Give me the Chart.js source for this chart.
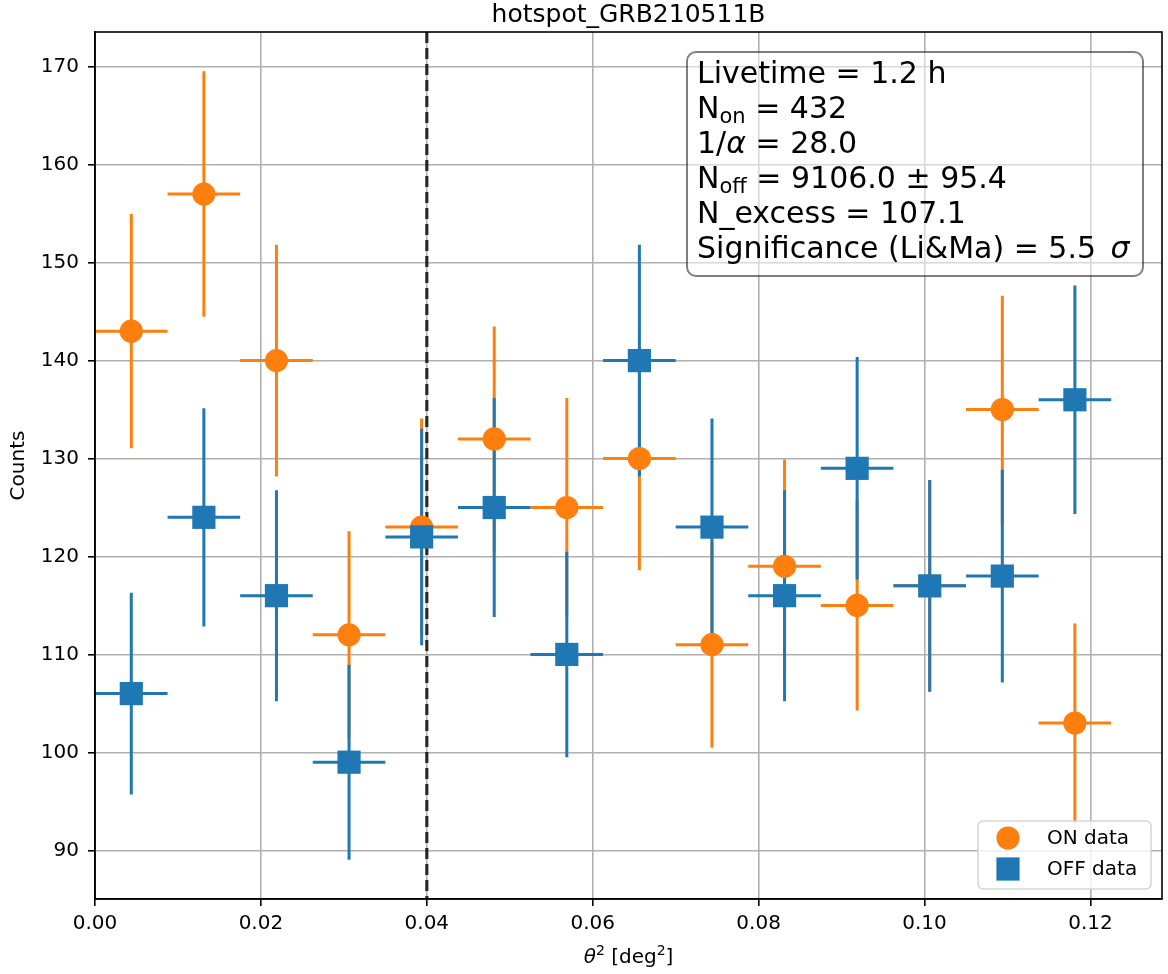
<!DOCTYPE html>
<html>
<head>
<meta charset="utf-8">
<script src="https://cdn.jsdelivr.net/npm/chart.js@4.4.1/dist/chart.umd.min.js"></script>
<style>
  html, body { margin: 0; padding: 0; background: #fff; }
  canvas { display: block; }
</style>
</head>
<body>
<canvas id="thetaChart" width="1168" height="974"></canvas>
<script>
// theta^2 bins (centres) and half width, deg^2
const thetaSq = [0.004375, 0.013125, 0.021875, 0.030625, 0.039375, 0.048125, 0.056875,
                 0.065625, 0.074375, 0.083125, 0.091875, 0.100625, 0.109375, 0.118125];
const binHalf = 0.004375;

const onCounts = [143, 157, 140, 112, 123, 132, 125, 130, 111, 119, 115, 117, 135, 103];
const onErr    = [11.96, 12.53, 11.83, 10.58, 11.09, 11.49, 11.18, 11.40, 10.54, 10.91, 10.72, 10.82, 11.62, 10.15];

const offCounts = [106, 124, 116, 99, 122, 125, 110, 140, 123, 116, 129, 117, 118, 136];
const offErr    = [10.30, 11.14, 10.77, 9.95, 11.05, 11.18, 10.49, 11.83, 11.09, 10.77, 11.36, 10.82, 10.86, 11.66];

const thetaCut = 0.04;
const xTicks = [0, 0.02, 0.04, 0.06, 0.08, 0.10, 0.12];
const yTicks = [90, 100, 110, 120, 130, 140, 150, 160, 170];

// [text, kind, extra gap before]
const statLines = [
    [['Livetime = 1.2 h', '', 0]],
    [['N', '', 0], ['on', 'sub', 0], [' = 432', '', 0]],
    [['1/', '', 0], ['α', 'it', 0], [' = 28.0', '', 0]],
    [['N', '', 0], ['off', 'sub', 0], [' = 9106.0 ± 95.4', '', 0]],
    [['N_excess = 107.1', '', 0]],
    [['Significance (Li&Ma) = 5.5 ', '', 0], ['σ', 'it', 5]]
];

const ORANGE = '#ff7f0e';
const BLUE = '#1f77b4';
const FONT = "'DejaVu Sans', sans-serif";

Chart.defaults.color = '#000';
Chart.defaults.font.family = FONT;

const toPoints = (ys) => thetaSq.map((x, i) => ({x: x, y: ys[i]}));

// dashed cut line + error bars go under every marker
const errorBars = {
    id: 'errorBars',
    beforeDatasetsDraw(chart) {
        const ctx = chart.ctx;
        const xs = chart.scales.x;
        const ys = chart.scales.y;
        const area = chart.chartArea;
        ctx.save();
        ctx.beginPath();
        ctx.rect(area.left, area.top, area.right - area.left, area.bottom - area.top);
        ctx.clip();

        ctx.strokeStyle = 'rgba(0,0,0,0.8)';
        ctx.lineWidth = 3.2;
        ctx.setLineDash([11, 5]);
        const cx = xs.getPixelForValue(thetaCut);
        ctx.beginPath();
        ctx.moveTo(cx, area.top);
        ctx.lineTo(cx, area.bottom);
        ctx.stroke();
        ctx.setLineDash([]);

        const series = [[onCounts, onErr, ORANGE], [offCounts, offErr, BLUE]];
        ctx.lineWidth = 3;
        for (const [vals, errs, col] of series) {
            ctx.strokeStyle = col;
            for (let i = 0; i < thetaSq.length; i++) {
                const px = xs.getPixelForValue(thetaSq[i]);
                const py = ys.getPixelForValue(vals[i]);
                ctx.beginPath();
                ctx.moveTo(px, ys.getPixelForValue(vals[i] - errs[i]));
                ctx.lineTo(px, ys.getPixelForValue(vals[i] + errs[i]));
                ctx.moveTo(xs.getPixelForValue(thetaSq[i] - binHalf), py);
                ctx.lineTo(xs.getPixelForValue(thetaSq[i] + binHalf), py);
                ctx.stroke();
            }
        }
        ctx.restore();
    }
};

function roundRect(ctx, x, y, w, h, r) {
    ctx.beginPath();
    ctx.moveTo(x + r, y);
    ctx.arcTo(x + w, y, x + w, y + h, r);
    ctx.arcTo(x + w, y + h, x, y + h, r);
    ctx.arcTo(x, y + h, x, y, r);
    ctx.arcTo(x, y, x + w, y, r);
    ctx.closePath();
}

const decorations = {
    id: 'decorations',
    afterDatasetsDraw(chart) {
        const ctx = chart.ctx;
        const area = chart.chartArea;
        ctx.save();

        // frame
        ctx.strokeStyle = '#000';
        ctx.lineWidth = 1.6;
        ctx.strokeRect(area.left, area.top, area.right - area.left, area.bottom - area.top);

        // stats box
        roundRect(ctx, 687, 52, 456, 224, 9);
        ctx.fillStyle = 'rgba(255,255,255,0.5)';
        ctx.fill();
        ctx.strokeStyle = 'rgba(0,0,0,0.5)';
        ctx.lineWidth = 2;
        ctx.stroke();

        ctx.fillStyle = '#000';
        ctx.textBaseline = 'alphabetic';
        ctx.textAlign = 'left';
        statLines.forEach((line, li) => {
            let x = 697;
            const base = 83 + li * 35;
            for (const [txt, kind, gap] of line) {
                x += gap;
                if (kind === 'sub') {
                    ctx.font = '21px ' + FONT;
                    ctx.fillText(txt, x, base + 5);
                } else if (kind === 'it') {
                    ctx.font = 'italic 30px ' + FONT;
                    ctx.fillText(txt, x, base);
                } else {
                    ctx.font = '30px ' + FONT;
                    ctx.fillText(txt, x, base);
                }
                x += ctx.measureText(txt).width;
            }
        });

        // legend
        roundRect(ctx, 978, 821, 173, 68, 5);
        ctx.fillStyle = 'rgba(255,255,255,0.8)';
        ctx.fill();
        ctx.strokeStyle = 'rgba(204,204,204,0.8)';
        ctx.lineWidth = 1.6;
        ctx.stroke();
        const ds = chart.data.datasets;
        ctx.fillStyle = ds[0].backgroundColor;
        ctx.beginPath();
        ctx.arc(1008, 838, 11.6, 0, Math.PI * 2);
        ctx.fill();
        ctx.fillStyle = ds[1].backgroundColor;
        ctx.fillRect(1008 - 11.6, 869 - 11.6, 23.2, 23.2);
        ctx.fillStyle = '#000';
        ctx.font = '20px ' + FONT;
        ctx.textBaseline = 'middle';
        ctx.fillText(ds[0].label, 1047, 839);
        ctx.fillText(ds[1].label, 1047, 870);

        // x axis label with math style
        const parts = [['θ', 'italic 20px ', 0], ['2', '14px ', -8], [' [deg', '20px ', 0], ['2', '14px ', -8], [']', '20px ', 0]];
        let total = 0;
        for (const [t, f] of parts) { ctx.font = f + FONT; total += ctx.measureText(t).width; }
        let x = (area.left + area.right) / 2 - total / 2;
        ctx.textBaseline = 'alphabetic';
        for (const [t, f, dy] of parts) {
            ctx.font = f + FONT;
            ctx.fillText(t, x, 963 + dy);
            x += ctx.measureText(t).width;
        }
        ctx.restore();
    }
};

new Chart(document.getElementById('thetaChart'), {
    type: 'scatter',
    data: {
        datasets: [
            {
                label: 'ON data',
                data: toPoints(onCounts),
                pointStyle: 'circle',
                radius: 11.6,
                backgroundColor: ORANGE,
                borderColor: ORANGE,
                borderWidth: 0,
                order: 1
            },
            {
                label: 'OFF data',
                data: toPoints(offCounts),
                pointStyle: 'rect',
                radius: 16.4,
                backgroundColor: BLUE,
                borderColor: BLUE,
                borderWidth: 0,
                order: 0
            }
        ]
    },
    options: {
        responsive: false,
        animation: false,
        events: [],
        layout: { autoPadding: false, padding: { left: 0, right: 6, top: 0, bottom: 0 } },
        plugins: {
            legend: { display: false },
            tooltip: { enabled: false },
            title: {
                display: true,
                text: 'hotspot_GRB210511B',
                fullSize: false,
                color: '#000',
                font: { size: 25, weight: 'normal', lineHeight: 0.82 },
                padding: { top: 5, bottom: 6.5 }
            }
        },
        scales: {
            x: {
                type: 'linear',
                min: 0,
                max: 0.128625,
                afterFit(scale) {
                    scale.height = 75;
                    scale.paddingLeft = 0;
                    scale.paddingRight = 0;
                },
                afterBuildTicks(scale) { scale.ticks = xTicks.map(v => ({value: v})); },
                ticks: {
                    font: { size: 20 },
                    padding: 6,
                    maxRotation: 0,
                    autoSkip: false,
                    callback: (v) => v.toFixed(2)
                },
                grid: { color: '#b0b0b0', lineWidth: 1.6, tickColor: '#000', tickLength: 7 },
                border: { color: '#000', width: 1.6 }
            },
            y: {
                type: 'linear',
                min: 85.03,
                max: 173.55,
                afterFit(scale) {
                    scale.width = 95;
                    scale.paddingTop = 0;
                    scale.paddingBottom = 0;
                },
                afterBuildTicks(scale) { scale.ticks = yTicks.map(v => ({value: v})); },
                ticks: {
                    font: { size: 20 },
                    padding: 9,
                    callback: (v) => String(v)
                },
                title: {
                    display: true,
                    text: 'Counts',
                    font: { size: 20 },
                    padding: { top: 6.5, bottom: 0 }
                },
                grid: { color: '#b0b0b0', lineWidth: 1.6, tickColor: '#000', tickLength: 7 },
                border: { color: '#000', width: 1.6 }
            }
        }
    },
    plugins: [errorBars, decorations]
});
</script>
</body>
</html>
